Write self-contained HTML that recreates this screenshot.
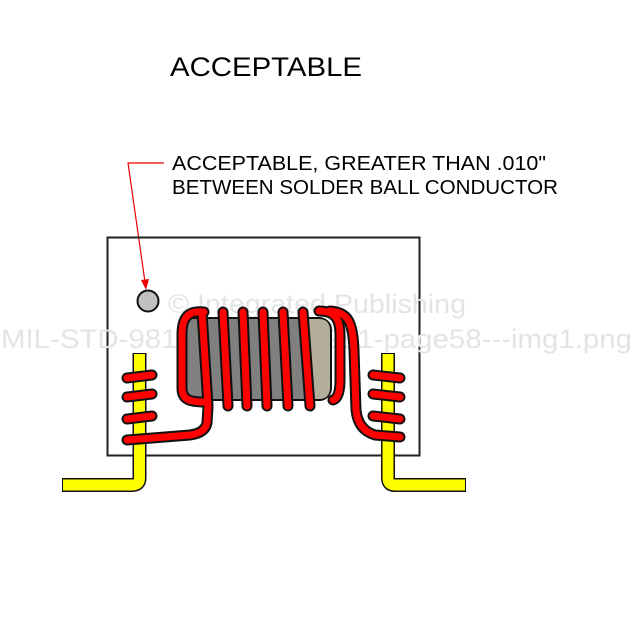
<!DOCTYPE html>
<html><head><meta charset="utf-8"><style>html,body{margin:0;padding:0;background:#fff}svg{display:block}</style></head><body>
<svg width="633" height="642" viewBox="0 0 633 642" xmlns="http://www.w3.org/2000/svg" font-family="Liberation Sans, Arial, sans-serif">
<rect width="633" height="642" fill="#fff"/>
<text x="170" y="76" font-size="27" textLength="192" lengthAdjust="spacingAndGlyphs">ACCEPTABLE</text>
<text x="172" y="170" font-size="20" textLength="374" lengthAdjust="spacingAndGlyphs">ACCEPTABLE, GREATER THAN .010"</text>
<text x="172" y="194" font-size="20" textLength="386" lengthAdjust="spacingAndGlyphs">BETWEEN SOLDER BALL CONDUCTOR</text>
<polyline points="164,163 128,163 145,282" fill="none" stroke="#e00" stroke-width="1.2"/>
<polygon points="146,290 141,280 149,279" fill="#e00"/>
<rect x="107.5" y="237.5" width="312" height="218" fill="none" stroke="#222" stroke-width="2"/>
<text x="168" y="313" font-size="27" fill="#e4e4e4" textLength="298" lengthAdjust="spacingAndGlyphs">© Integrated Publishing</text>
<text x="1" y="348" font-size="27" fill="#e4e4e4" textLength="631" lengthAdjust="spacingAndGlyphs">MIL-STD-981--MIL-STD-981-page58---img1.png</text>
<circle cx="148" cy="301" r="10.5" fill="#c0c0c0" stroke="#111" stroke-width="2"/>
<!-- legs -->
<g fill="none" stroke-linejoin="round">
<path d="M139.5,353 L139.5,478 Q139.5,485 132,485 L62,485" stroke="#111" stroke-width="14"/>
<path d="M139.5,354 L139.5,478 Q139.5,485 132,485 L63,485" stroke="#ff0" stroke-width="11"/>
<path d="M388,353 L388,478 Q388,485 395,485 L466,485" stroke="#111" stroke-width="14"/>
<path d="M388,354 L388,478 Q388,485 395,485 L465,485" stroke="#ff0" stroke-width="11"/>
</g>
<!-- core -->
<rect x="179" y="318" width="152" height="82" rx="12" fill="#808080" stroke="#111" stroke-width="2"/>
<path d="M303,319 L319,319 Q330,319 330,331 L330,387 Q330,399 319,399 L309,399 Z" fill="#b3ad9c"/>
<g fill="none" stroke-linecap="round" stroke-linejoin="round">
<g stroke="#111" stroke-width="11">
<path d="M204,312 C186,310 182,320 182,335 L182,388 C182,400 190,402 205,402"/>
<path d="M208,407 L207,423 Q205,433 190,435 L127,440"/>
<path d="M319,311 C336,311 340,320 340,335 L340,380 Q340,398 333,400"/>
<path d="M330,311 C348,312 353,322 354,350 L356,410 Q358,430 375,435 L400,437"/>
<path d="M127,378 L152,375 M127,397 L152,394 M127,419 L152,416"/>
<path d="M373,375 L400,378 M373,394 L400,397 M373,416 L400,419"/>
<path d="M202,312 L208,406 M223,312 L228,406 M243,312 L247,406 M263,312 L267,406 M283,312 L288,406 M303,312 L310,406"/>
</g>
<g stroke="#f00" stroke-width="7">
<path d="M204,312 C186,310 182,320 182,335 L182,388 C182,400 190,402 205,402"/>
<path d="M208,407 L207,423 Q205,433 190,435 L127,440"/>
<path d="M319,311 C336,311 340,320 340,335 L340,380 Q340,398 333,400"/>
<path d="M330,311 C348,312 353,322 354,350 L356,410 Q358,430 375,435 L400,437"/>
<path d="M127,378 L152,375 M127,397 L152,394 M127,419 L152,416"/>
<path d="M373,375 L400,378 M373,394 L400,397 M373,416 L400,419"/>
<path d="M202,312 L208,406 M223,312 L228,406 M243,312 L247,406 M263,312 L267,406 M283,312 L288,406 M303,312 L310,406"/>
</g>
</g>
</svg>
</body></html>
